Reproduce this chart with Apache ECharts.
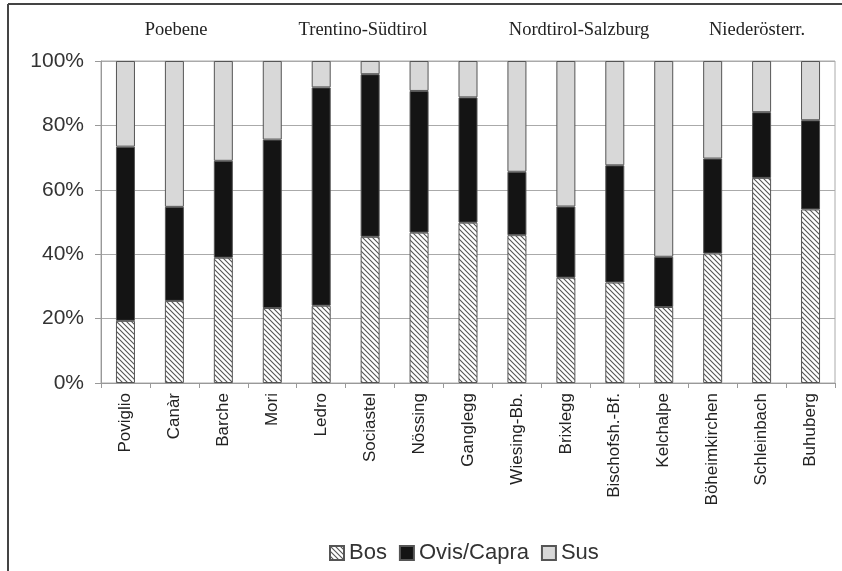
<!DOCTYPE html>
<html>
<head>
<meta charset="utf-8">
<script src="https://cdn.jsdelivr.net/npm/echarts@6/dist/echarts.min.js"></script>
<style>
html, body { margin: 0; padding: 0; background: #fff; }
#main { width: 842px; height: 571px; }
</style>
</head>
<body>
<div id="main"></div>
<script>
var sites = ['Poviglio', 'Canàr', 'Barche', 'Mori', 'Ledro', 'Sociastel', 'Nössing', 'Ganglegg',
	'Wiesing-Bb.', 'Brixlegg', 'Bischofsh.-Bf.', 'Kelchalpe', 'Böheimkirchen', 'Schleinbach', 'Buhuberg'];
var bos  = [19.3, 25.5, 38.9, 23.3, 24.0, 45.4, 46.7, 49.8, 45.9, 32.7, 31.2, 23.6, 40.2, 63.7, 53.9];
var ovis = [54.1, 29.2, 30.1, 52.3, 67.8, 50.5, 44.0, 38.9, 19.7, 22.1, 36.4, 15.6, 29.5, 20.4, 27.7];
var sus  = [26.6, 45.3, 31.0, 24.4, 8.2, 4.1, 9.3, 11.3, 34.4, 45.2, 32.4, 60.8, 30.3, 15.9, 18.4];
var regions = ['Poebene', 'Trentino-Südtirol', 'Nordtirol-Salzburg', 'Niederösterr.'];
var yTicks = [0, 20, 40, 60, 80, 100];

var mainChart = null;
var chartOpt = null;

// Schraffur fuer Bos
function hatch() {
	var c = document.createElement('canvas');
	c.width = 5; c.height = 5;
	var ctx = c.getContext('2d');
	ctx.fillStyle = '#fff';
	ctx.fillRect(0, 0, 5, 5);
	ctx.strokeStyle = '#555';
	ctx.lineWidth = 1.1;
	ctx.beginPath();
	ctx.moveTo(-1, -1); ctx.lineTo(6, 6);
	ctx.moveTo(-1, 4); ctx.lineTo(1, 6);
	ctx.moveTo(4, -1); ctx.lineTo(6, 1);
	ctx.stroke();
	return { image: c, repeat: 'repeat' };
}

function initChart() {
	mainChart = echarts.init(document.getElementById('main'));
	var regionX = [176, 363, 579, 757];
	var graphics = [
		{ type: 'line', shape: { x1: 8, y1: 4, x2: 842, y2: 4 }, style: { stroke: '#444', lineWidth: 2 } },
		{ type: 'line', shape: { x1: 8, y1: 4, x2: 8, y2: 571 }, style: { stroke: '#444', lineWidth: 2 } }
	];
	for (var i = 0; i < regions.length; i++) {
		graphics.push({
			type: 'text', x: regionX[i], y: 30,
			style: { text: regions[i], fill: '#222', font: '18.5px "Liberation Serif", serif', align: 'center', verticalAlign: 'middle' }
		});
	}
	var barStyle = { borderColor: '#555', borderWidth: 1 };
	chartOpt = {
		animation: false,
		backgroundColor: '#fff',
		graphic: graphics,
		grid: { left: 101, right: 7, top: 61, bottom: 188, show: true, borderColor: '#aaa', borderWidth: 1 },
		legend: {
			left: 324, top: 537,
			itemWidth: 14, itemHeight: 14, itemGap: 12,
			icon: 'rect',
			textStyle: { fontSize: 22, color: '#333', fontFamily: 'Liberation Sans, Arial, sans-serif' },
			data: ['Bos', 'Ovis/Capra', 'Sus']
		},
		xAxis: {
			type: 'category',
			data: sites,
			axisLine: { lineStyle: { color: '#999' } },
			axisTick: { show: true, length: 5, lineStyle: { color: '#999' } },
			axisLabel: { rotate: 90, fontSize: 17, color: '#222', margin: 10, fontFamily: 'Liberation Sans, Arial, sans-serif' }
		},
		yAxis: {
			type: 'value',
			min: yTicks[0], max: yTicks[yTicks.length - 1], interval: 20,
			axisLine: { show: true, lineStyle: { color: '#999' } },
			axisTick: { show: true, length: 6, lineStyle: { color: '#999' } },
			axisLabel: { formatter: '{value}%', fontSize: 21, color: '#333', margin: 17, fontFamily: 'Liberation Sans, Arial, sans-serif' },
			splitLine: { lineStyle: { color: '#aaa' } }
		},
		series: [
			{ name: 'Bos', type: 'bar', stack: 'a', barWidth: 19, data: bos,
				itemStyle: Object.assign({ color: hatch() }, barStyle) },
			{ name: 'Ovis/Capra', type: 'bar', stack: 'a', data: ovis,
				itemStyle: Object.assign({ color: '#141414' }, barStyle) },
			{ name: 'Sus', type: 'bar', stack: 'a', data: sus,
				itemStyle: Object.assign({ color: '#d8d8d8' }, barStyle) }
		]
	};
	mainChart.setOption(chartOpt);
}

initChart();
</script>
</body>
</html>
